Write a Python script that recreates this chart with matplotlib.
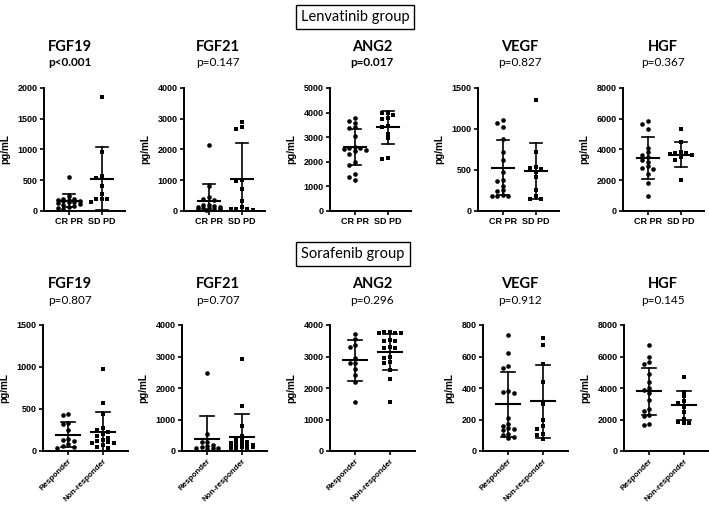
import numpy as np
import matplotlib
matplotlib.use("Agg")
import matplotlib.pyplot as plt

# ---- data (pg/mL) ----
markers = ["FGF19", "FGF21", "ANG2", "VEGF", "HGF"]

# Lenvatinib group: CR PR (circles) vs SD PD (squares)
lenv_pvals = ["p<0.001", "p=0.147", "p=0.017", "p=0.827", "p=0.367"]
lenv_bold_p = [True, False, True, False, False]
lenv_ymax = [2000, 4000, 5000, 1500, 8000]
lenv_ystep = [500, 1000, 1000, 500, 2000]
lenv_crpr = [
    [548, 250, 200, 190, 180, 175, 170, 160, 150, 140, 130, 120, 100, 80, 60, 50, 30],
    [2150, 800, 470, 400, 350, 200, 180, 150, 130, 120, 100, 90, 80, 60, 50, 40],
    [3780, 3650, 3580, 3400, 3380, 3050, 2620, 2580, 2550, 2500, 2480, 2420, 2300,
     1980, 1850, 1500, 1380, 1250],
    [1110, 1070, 1020, 880, 720, 620, 480, 380, 370, 300, 250, 240, 190, 185, 180, 180],
    [5850, 5650, 5350, 4100, 3850, 3650, 3500, 3300, 3200, 2900, 2800, 2750, 2400,
     1800, 1000],
]
lenv_sdpd = [
    [1850, 960, 570, 540, 410, 280, 200, 190, 190, 140],
    [2900, 2740, 2680, 1000, 980, 700, 340, 140, 60, 50, 50, 40],
    [3980, 3970, 3900, 3800, 3750, 3450, 3400, 3150, 2950, 2150, 2100],
    [1350, 720, 540, 530, 510, 480, 420, 260, 180, 150, 150],
    [5350, 4500, 3850, 3800, 3750, 3700, 3650, 3500, 3300, 2000],
]
lenv_mean = [[170, 526], [340, 1052], [2600, 3398], [527, 489], [3433, 3673]]
lenv_sd = [[110, 510], [526, 1173], [735, 674], [335, 346], [1362, 840]]

# Sorafenib group: Responder (circles) vs Non-responder (squares)
sora_pvals = ["p=0.807", "p=0.707", "p=0.296", "p=0.912", "p=0.145"]
sora_ymax = [1500, 4000, 4000, 800, 8000]
sora_ystep = [500, 1000, 1000, 200, 2000]
sora_resp = [
    [445, 425, 335, 325, 250, 140, 130, 120, 80, 60, 50, 40],
    [2490, 530, 300, 270, 200, 150, 120, 100, 90, 80, 70],
    [3720, 3560, 3380, 3300, 2950, 2800, 2780, 2600, 2420, 2180, 1560],
    [735, 625, 540, 525, 380, 375, 370, 210, 170, 160, 145, 140, 135, 110, 100, 90, 85],
    [6700, 6000, 5650, 5550, 4900, 4400, 4000, 3850, 3700, 3250, 2650, 2550, 2300,
     2250, 1700, 1650],
]
sora_nonresp = [
    [980, 570, 440, 270, 250, 230, 200, 180, 160, 130, 120, 110, 100, 90, 70, 50, 30],
    [2920, 1420, 790, 480, 420, 350, 300, 280, 250, 220, 200, 180, 160, 150, 130,
     120, 100, 90, 80],
    [3780, 3770, 3760, 3750, 3740, 3520, 3500, 3480, 3300, 3280, 3260, 3000, 2950,
     2820, 2780, 2560, 2280, 1560],
    [715, 670, 550, 440, 300, 200, 160, 140, 110, 100, 75],
    [4700, 3750, 3500, 3200, 3050, 2800, 2500, 2050, 1850, 1800, 1780],
]
sora_mean = [[196, 231], [393, 456], [2878, 3140], [297, 315], [3788, 2900]]
sora_sd = [[148, 232], [721, 711], [656, 560], [206, 230], [1503, 930]]

W, H = 709, 505
TICK_FONT = "Liberation Sans"
TITLE_FONT = "Lato"


def swarm(vals, ymax, h_px, dx=5.5, dy=3.8, max_off=12.0):
    # rows of points: spread sideways when values sit close together,
    # but never wider than max_off pixels (points may overlap then)
    ys = np.asarray(vals, float) / ymax * h_px
    cands = [0.0]
    k = 1
    while k * dx / 2 <= max_off:
        cands += [-k * dx / 2, k * dx / 2]
        k += 1
    placed = []
    offs = np.zeros(len(ys))
    for i in np.argsort(-ys):
        best, best_score = 0.0, -1.0
        for c in cands:
            score = min([max(abs(c - px) / dx, abs(ys[i] - py) / dy) for px, py in placed],
                        default=9.0)
            if score >= 1:
                best = c
                break
            if score > best_score + 1e-9:
                best, best_score = c, score
        offs[i] = best
        placed.append((best, ys[i]))
    return offs


def panel(left, top, width, height, xlim, groups, means, sds, ymax, ystep, labels, rotate):
    ax = fig.add_axes([left / W, 1 - (top + height) / H, width / W, height / H])
    px_per_unit = width / (xlim[1] - xlim[0])
    for gx, (vals, mk) in enumerate(zip(groups, ["o", "s"])):
        offs = swarm(vals, ymax, height) / px_per_unit
        ax.scatter(gx + offs, vals, marker=mk, s=11 if mk == "o" else 9,
                   color="black", linewidths=0, clip_on=False, zorder=3)
        m, s = means[gx], sds[gx]
        ax.plot([gx - 0.34, gx + 0.34], [m, m], color="black", lw=1.5, zorder=4)
        lo, hi = max(m - s, 0), m + s
        ax.plot([gx, gx], [lo, hi], color="black", lw=1.2, zorder=4)
        for v in (lo, hi):
            ax.plot([gx - 0.19, gx + 0.19], [v, v], color="black", lw=1.2, zorder=4)
    ax.set_xlim(*xlim)
    ax.set_ylim(0, ymax)
    ax.set_yticks(np.arange(0, ymax + 1, ystep))
    ax.set_xticks([0, 1])
    for sp in ["top", "right"]:
        ax.spines[sp].set_visible(False)
    for sp in ["left", "bottom"]:
        ax.spines[sp].set_linewidth(1.4)
    ax.tick_params(direction="out", length=3, width=1.2, pad=1.5)
    for t in ax.get_yticklabels():
        t.set_fontfamily(TICK_FONT)
        t.set_fontweight("bold")
        t.set_fontsize(6.5)
    if rotate:
        ax.set_xticklabels(labels, rotation=45, ha="right", rotation_mode="anchor",
                           fontfamily=TICK_FONT, fontweight="bold", fontsize=5.8)
    else:
        ax.set_xticklabels(labels, fontfamily=TICK_FONT, fontweight="bold", fontsize=6.5)
    ax.set_ylabel("pg/mL", fontfamily=TICK_FONT, fontweight="bold", fontsize=7.2, labelpad=5)
    return ax


fig = plt.figure(figsize=(W / 100, H / 100), dpi=100)

top_lefts = [44, 184, 330, 478, 623]
bot_lefts = [43, 182, 330, 483, 624]
title_x = [70, 218, 372, 520, 663]

for i in range(5):
    panel(top_lefts[i], 88, 81, 123, (-0.75, 1.7), [lenv_crpr[i], lenv_sdpd[i]],
          lenv_mean[i], lenv_sd[i], lenv_ymax[i], lenv_ystep[i], ["CR PR", "SD PD"], False)
    fig.text(title_x[i] / W, 1 - 47 / H, markers[i], ha="center", va="center",
             fontfamily=TITLE_FONT, fontweight="bold", fontsize=10.5)
    fig.text(title_x[i] / W, 1 - 62 / H, lenv_pvals[i], ha="center", va="center",
             fontfamily=TITLE_FONT, fontweight="bold" if lenv_bold_p[i] else "normal",
             fontsize=8.5)

    panel(bot_lefts[i], 325, 85, 126, (-0.72, 1.72), [sora_resp[i], sora_nonresp[i]],
          sora_mean[i], sora_sd[i], sora_ymax[i], sora_ystep[i],
          ["Responder", "Non-responder"], True)
    fig.text(title_x[i] / W, 1 - 284 / H, markers[i], ha="center", va="center",
             fontfamily=TITLE_FONT, fontweight="bold", fontsize=10.5)
    fig.text(title_x[i] / W, 1 - 301 / H, sora_pvals[i], ha="center", va="center",
             fontfamily=TITLE_FONT, fontsize=8.5)

box = dict(boxstyle="square,pad=0.35", facecolor="white", edgecolor="black", linewidth=1.0)
fig.text(355 / W, 1 - 17 / H, "Lenvatinib group", ha="center", va="center",
         fontfamily=TITLE_FONT, fontsize=10.5, bbox=box)
fig.text(353 / W, 1 - 254 / H, "Sorafenib group", ha="center", va="center",
         fontfamily=TITLE_FONT, fontsize=10.5, bbox=box)

fig.savefig("out.png", dpi=100)
